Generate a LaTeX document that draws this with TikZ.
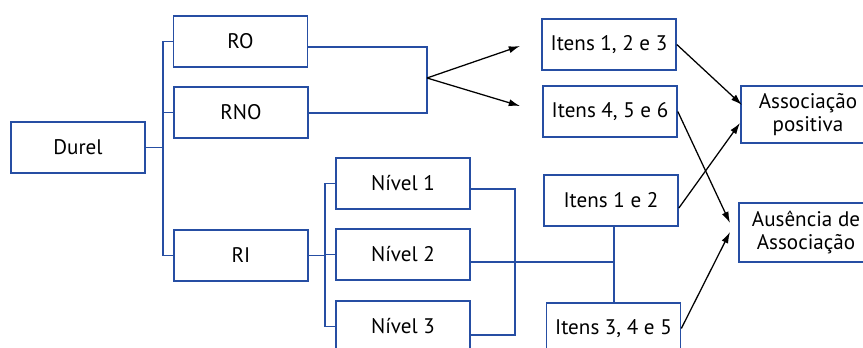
\documentclass[tikz,border=0pt]{standalone}
\usepackage{fontspec}
\setmainfont{PT Sans}
\usetikzlibrary{arrows.meta}
\definecolor{boxblue}{RGB}{38,78,163}
\begin{document}
\begin{tikzpicture}[x=0.025cm,y=-0.025cm,
    box/.style={draw=boxblue, line width=1.1pt, minimum width=3.35cm, minimum height=1.275cm,
      inner sep=0pt, align=center, font=\fontsize{15}{16}\selectfont},
    link/.style={draw=boxblue, line width=1.1pt},
    arr/.style={-{Latex[length=8pt,width=5pt]}, line width=0.9pt}]
    \clip (0,0) rectangle (863,348);
    % left part of the tree
    \node[box] (durel) at (78,147.5) {Durel};
    \node[box] (ro) at (240.5,41.5) {RO};
    \node[box] (rno) at (241,112.5) {RNO};
    \node[box] (ri) at (241,255.5) {RI};
    \node[box] (n1) at (403,183.5) {Nível 1};
    \node[box] (n2) at (403,254.5) {Nível 2};
    \node[box] (n3) at (403,326.5) {Nível 3};
    % items
    \node[box] (i123) at (609,44.5) {Itens 1, 2 e 3};
    \node[box] (i456) at (610,111.5) {Itens 4, 5 e 6};
    \node[box] (i12) at (611,200.5) {Itens 1 e 2};
    \node[box] (i345) at (613.5,328.5) {Itens 3, 4 e 5};
    % results (cut at the right border)
    \node[box, minimum height=1.425cm] (apos) at (808,114.5) {Associação\\positiva};
    \node[box, minimum height=1.475cm] (aus) at (806,232.5) {Ausência de\\Associação};
    % brackets
    \coordinate (jd) at (163,147.5);
    \draw[link] (durel.east) -- (jd);
    \draw[link] (ro.west) -- (ro.west -| jd) -- (ri.west -| jd) -- (ri.west);
    \draw[link] (rno.west) -- (rno.west -| jd);
    \coordinate (jr) at (325,255.5);
    \draw[link] (ri.east) -- (jr);
    \draw[link] (n1.west) -- (n1.west -| jr) -- (n3.west -| jr) -- (n3.west);
    \draw[link] (n2.west) -- (n2.west -| jr);
    \coordinate (jo1) at (427,47);
    \coordinate (jo2) at (427,113);
    \draw[link] (ro.east |- jo1) -- (jo1) -- (jo2) -- (rno.east |- jo2);
    \coordinate (jn1) at (515,189);
    \coordinate (jn3) at (515,335);
    \draw[link] (n1.east |- jn1) -- (jn1) -- (jn3) -- (n3.east |- jn3);
    \coordinate (ji) at (614,262);
    \draw[link] (n2.east |- ji) -- (ji);
    \draw[link] (i12.south -| ji) -- (i345.north -| ji);
    % arrows
    \coordinate (split) at (427,78);
    \coordinate (to1) at (520,46);
    \coordinate (to2) at (520,106);
    \draw[arr] (split) -- (to1);
    \draw[arr] (split) -- (to2);
    \coordinate (pin1) at (742,105);
    \coordinate (pin2) at (740,123);
    \coordinate (ain1) at (730,223);
    \coordinate (ain2) at (730,232);
    \draw[arr] (i123.east) -- (pin1);
    \draw[arr] (i456.east) -- (ain1);
    \draw[arr] ([yshift=-0.19cm]i12.east) -- (pin2);
    \draw[arr] (i345.east) -- (ain2);
\end{tikzpicture}
\end{document}
